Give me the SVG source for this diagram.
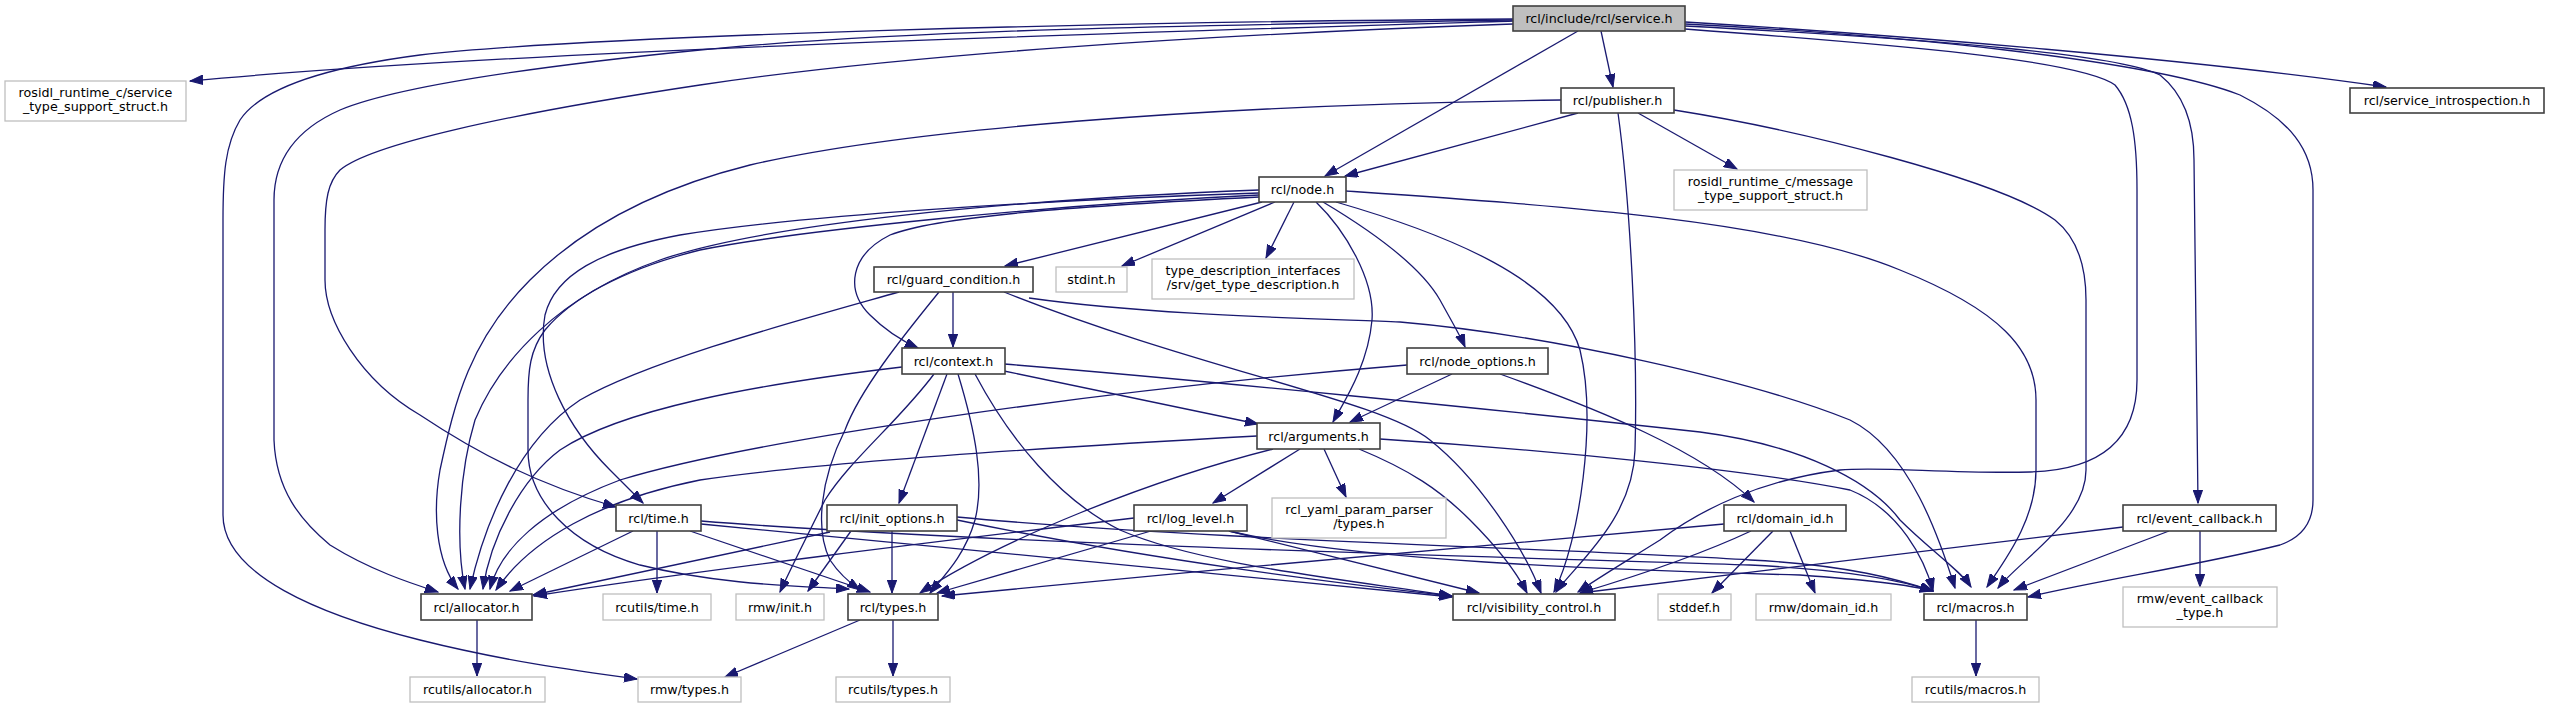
<svg xmlns="http://www.w3.org/2000/svg" width="2550" height="708" viewBox="0 0 2550 708">
<style>
text{font-family:"DejaVu Sans","Liberation Sans",sans-serif;font-size:12.7px;fill:#000;text-anchor:middle}
.n rect{fill:#fff;stroke:#404040;stroke-width:1.6}
.x rect{fill:#fff;stroke:#bfbfbf;stroke-width:1.3}
.r rect{fill:#bfbfbf;stroke:#404040;stroke-width:1.6}
#edges path{fill:none;stroke:#191970;stroke-width:1.3;marker-end:url(#ah)}
</style>
<defs>
<marker id="ah" markerUnits="userSpaceOnUse" markerWidth="14" markerHeight="10" refX="13" refY="4.7" orient="auto">
<path d="M0,0 L13,4.7 L0,9.4 Z" fill="#191970" stroke="#191970" stroke-width="1"/>
</marker>
</defs>
<rect width="2550" height="708" fill="#fff"/>
<g id="edges">
<path d="M1513,21 C1150,32 520,50 190,81"/>
<path d="M1513,19 C1100,22 600,35 420,55 C320,68 260,90 240,120 C225,145 223,175 223,220 L223,515 C223,575 320,615 420,640 C500,660 570,670 637,679"/>
<path d="M1513,20 C1200,25 900,30 700,50 C550,65 400,85 340,110 C295,130 274,160 274,200 L274,440 C276,490 300,520 330,545 C370,570 410,583 438,592"/>
<path d="M1513,24 C1200,35 900,55 700,85 C500,115 370,145 340,170 C328,182 325,200 325,230 L325,280 C325,320 360,380 420,415 C480,455 540,485 616,507"/>
<path d="M1578,31 L1325,176"/>
<path d="M1601,31 L1613,87"/>
<path d="M1685,22 C1900,35 2200,60 2386,87"/>
<path d="M1685,24 C1900,35 2150,60 2240,95 C2290,120 2313,150 2313,190 L2313,500 C2313,525 2300,538 2280,545 C2200,565 2100,580 2028,597"/>
<path d="M1685,26 C1950,40 2120,55 2160,75 C2185,95 2194,125 2194,160 L2198,503"/>
<path d="M1685,29 C1900,45 2080,60 2115,85 C2132,105 2137,140 2137,190 L2137,380 C2137,440 2100,470 2030,472 C1950,474 1880,466 1840,470 C1760,480 1700,510 1660,540 C1620,565 1595,580 1578,592"/>
<path d="M1578,113 L1345,176"/>
<path d="M1638,113 L1737,169"/>
<path d="M1618,113 C1630,200 1638,350 1635,450 C1633,520 1575,565 1556,592"/>
<path d="M1674,110 C1800,130 2000,180 2055,220 C2080,240 2086,270 2086,300 L2086,470 C2086,520 2020,560 1998,588"/>
<path d="M1561,100 C1200,105 900,130 750,165 C650,190 580,230 530,280 C470,340 455,400 440,470 C433,510 435,560 458,589"/>
<path d="M1262,202 L1005,266"/>
<path d="M1275,202 L1122,266"/>
<path d="M1294,202 L1266,258"/>
<path d="M1259,197 C1100,205 940,215 890,235 C850,255 845,290 870,315 C885,330 900,340 918,348"/>
<path d="M1323,202 C1370,230 1420,265 1440,300 C1452,322 1460,335 1465,347"/>
<path d="M1316,202 C1345,230 1375,280 1372,320 C1368,365 1345,400 1333,422"/>
<path d="M1336,202 C1450,235 1560,280 1580,350 C1597,420 1580,540 1554,592"/>
<path d="M1346,191 C1550,205 1780,220 1900,270 C2000,310 2036,350 2036,400 L2036,470 C2036,520 2005,560 1987,587"/>
<path d="M1259,193 C1050,200 800,215 680,235 C600,250 555,275 545,315 C535,370 570,430 610,470 C625,485 635,495 643,503"/>
<path d="M1259,195 C1050,205 800,230 700,250 C620,270 570,300 545,330 C530,350 528,370 528,400 L528,450 C528,500 570,545 640,565 C720,585 800,586 849,589"/>
<path d="M1259,190 C1000,200 760,225 660,260 C560,295 500,360 475,420 C460,470 455,540 465,589"/>
<path d="M953,292 L953,347"/>
<path d="M899,292 C800,320 650,360 580,400 C520,440 485,520 470,589"/>
<path d="M939,292 C900,340 860,390 845,430 C820,480 815,530 830,560 C840,575 850,583 860,590"/>
<path d="M1004,292 C1200,370 1380,400 1430,440 C1480,480 1525,550 1541,593"/>
<path d="M1029,298 C1150,315 1300,318 1400,322 C1550,335 1750,380 1850,420 C1910,450 1940,540 1955,588"/>
<path d="M1004,371 L1258,424"/>
<path d="M902,367 C750,385 620,410 560,450 C520,480 490,540 483,589"/>
<path d="M934,374 C900,420 850,460 825,500 C805,540 790,570 780,592"/>
<path d="M947,374 L899,503"/>
<path d="M958,374 C975,430 985,480 975,520 C965,555 945,575 930,593"/>
<path d="M975,374 C1010,440 1060,500 1120,530 C1200,565 1350,580 1452,596"/>
<path d="M1004,364 C1200,380 1500,410 1700,432 C1800,445 1870,480 1900,520 C1930,550 1960,570 1971,587"/>
<path d="M1452,374 L1350,422"/>
<path d="M1407,365 C1100,390 750,440 620,480 C540,510 500,550 490,589"/>
<path d="M1500,374 C1600,410 1700,450 1754,502"/>
<path d="M1257,436 C1000,450 800,465 700,480 C600,500 530,540 496,590"/>
<path d="M1300,449 L1213,503"/>
<path d="M1324,449 L1346,497"/>
<path d="M1273,449 C1150,480 1000,540 920,593"/>
<path d="M1359,449 C1410,470 1440,490 1470,520 C1500,550 1518,575 1527,593"/>
<path d="M1380,439 C1550,450 1750,470 1850,490 C1900,510 1925,560 1933,591"/>
<path d="M633,531 L510,591"/>
<path d="M657,531 L657,593"/>
<path d="M690,531 L870,592"/>
<path d="M701,524 C900,545 1250,575 1452,597"/>
<path d="M701,521 C1000,545 1600,560 1750,565 C1850,570 1900,580 1933,591"/>
<path d="M830,532 L533,595"/>
<path d="M851,531 L808,591"/>
<path d="M892,531 L892,593"/>
<path d="M957,520 C1150,560 1350,585 1452,596"/>
<path d="M957,517 C1200,540 1600,550 1750,560 C1850,565 1900,580 1933,591"/>
<path d="M1134,518 C950,540 700,570 534,596"/>
<path d="M1151,531 L937,593"/>
<path d="M1229,531 L1479,593"/>
<path d="M1229,531 C1350,560 1600,570 1800,575 C1870,580 1910,585 1933,591"/>
<path d="M1724,524 C1500,545 1200,570 942,596"/>
<path d="M1751,531 C1700,555 1640,575 1580,593"/>
<path d="M1773,531 L1712,593"/>
<path d="M1790,531 L1815,593"/>
<path d="M2123,527 L1580,593"/>
<path d="M2169,531 L2014,590"/>
<path d="M2200,531 L2200,587"/>
<path d="M477,620 L477,676"/>
<path d="M860,620 L725,677"/>
<path d="M893,620 L893,676"/>
<path d="M1976,620 L1976,676"/>
</g>
<g id="n_service" class="r"><rect x="1513" y="6" width="172" height="25"/><text x="1599" y="23">rcl/include/rcl/service.h</text></g>
<g id="n_svc_ts" class="x"><rect x="5" y="81" width="181" height="40"/><text x="95.5" y="97">rosidl_runtime_c/service</text><text x="95.5" y="111">_type_support_struct.h</text></g>
<g id="n_publisher" class="n"><rect x="1561" y="88" width="113" height="25"/><text x="1617.5" y="105">rcl/publisher.h</text></g>
<g id="n_introspection" class="n"><rect x="2350" y="88" width="194" height="25"/><text x="2447" y="105">rcl/service_introspection.h</text></g>
<g id="n_node" class="n"><rect x="1259" y="177" width="87" height="25"/><text x="1302.5" y="194">rcl/node.h</text></g>
<g id="n_msg_ts" class="x"><rect x="1674" y="170" width="193" height="40"/><text x="1770.5" y="186">rosidl_runtime_c/message</text><text x="1770.5" y="200">_type_support_struct.h</text></g>
<g id="n_guard" class="n"><rect x="874" y="267" width="159" height="25"/><text x="953.5" y="284">rcl/guard_condition.h</text></g>
<g id="n_stdint" class="x"><rect x="1056" y="267" width="71" height="25"/><text x="1091.5" y="284">stdint.h</text></g>
<g id="n_typedesc" class="x"><rect x="1152" y="259" width="202" height="40"/><text x="1253" y="275">type_description_interfaces</text><text x="1253" y="289">/srv/get_type_description.h</text></g>
<g id="n_context" class="n"><rect x="902" y="348" width="103" height="26"/><text x="953.5" y="365.5">rcl/context.h</text></g>
<g id="n_nodeopts" class="n"><rect x="1407" y="348" width="141" height="26"/><text x="1477.5" y="365.5">rcl/node_options.h</text></g>
<g id="n_arguments" class="n"><rect x="1257" y="423" width="123" height="26"/><text x="1318.5" y="440.5">rcl/arguments.h</text></g>
<g id="n_time" class="n"><rect x="616" y="505" width="85" height="26"/><text x="658.5" y="522.5">rcl/time.h</text></g>
<g id="n_initopts" class="n"><rect x="827" y="505" width="130" height="26"/><text x="892" y="522.5">rcl/init_options.h</text></g>
<g id="n_loglevel" class="n"><rect x="1134" y="505" width="113" height="26"/><text x="1190.5" y="522.5">rcl/log_level.h</text></g>
<g id="n_yaml" class="x"><rect x="1272" y="498" width="174" height="40"/><text x="1359" y="514">rcl_yaml_param_parser</text><text x="1359" y="528">/types.h</text></g>
<g id="n_domainid" class="n"><rect x="1724" y="505" width="122" height="26"/><text x="1785" y="522.5">rcl/domain_id.h</text></g>
<g id="n_eventcb" class="n"><rect x="2123" y="505" width="153" height="26"/><text x="2199.5" y="522.5">rcl/event_callback.h</text></g>
<g id="n_allocator" class="n"><rect x="421" y="594" width="111" height="26"/><text x="476.5" y="611.5">rcl/allocator.h</text></g>
<g id="n_rcutils_time" class="x"><rect x="603" y="594" width="108" height="26"/><text x="657" y="611.5">rcutils/time.h</text></g>
<g id="n_rmw_init" class="x"><rect x="736" y="594" width="88" height="26"/><text x="780" y="611.5">rmw/init.h</text></g>
<g id="n_types" class="n"><rect x="848" y="594" width="90" height="26"/><text x="893" y="611.5">rcl/types.h</text></g>
<g id="n_vis" class="n"><rect x="1453" y="594" width="162" height="26"/><text x="1534" y="611.5">rcl/visibility_control.h</text></g>
<g id="n_stddef" class="x"><rect x="1658" y="594" width="73" height="26"/><text x="1694.5" y="611.5">stddef.h</text></g>
<g id="n_rmw_domain" class="x"><rect x="1756" y="594" width="135" height="26"/><text x="1823.5" y="611.5">rmw/domain_id.h</text></g>
<g id="n_macros" class="n"><rect x="1924" y="594" width="103" height="26"/><text x="1975.5" y="611.5">rcl/macros.h</text></g>
<g id="n_evcbtype" class="x"><rect x="2123" y="587" width="154" height="40"/><text x="2200" y="603">rmw/event_callback</text><text x="2200" y="617">_type.h</text></g>
<g id="n_rcutils_alloc" class="x"><rect x="410" y="677" width="135" height="25"/><text x="477.5" y="694">rcutils/allocator.h</text></g>
<g id="n_rmw_types" class="x"><rect x="638" y="677" width="103" height="25"/><text x="689.5" y="694">rmw/types.h</text></g>
<g id="n_rcutils_types" class="x"><rect x="836" y="677" width="114" height="25"/><text x="893" y="694">rcutils/types.h</text></g>
<g id="n_rcutils_macros" class="x"><rect x="1912" y="677" width="127" height="25"/><text x="1975.5" y="694">rcutils/macros.h</text></g>
</svg>
